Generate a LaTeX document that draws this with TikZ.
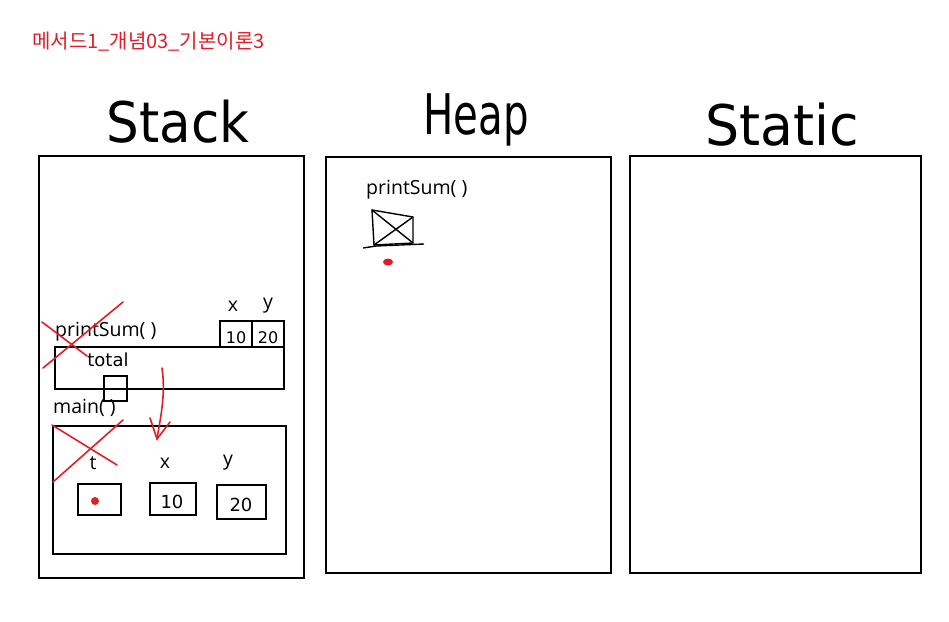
\documentclass[tikz,border=0pt]{standalone}
\usepackage{fontspec}
\setmainfont{Open Sans}
\newfontfamily\krfont{Noto Sans CJK KR}
\newfontfamily\handfont{DejaVu Sans}
\definecolor{penred}{RGB}{225,30,40}
\usetikzlibrary{arrows.meta}
\tikzset{
  region/.style={draw, line width=2.6pt},
  frame/.style={draw, line width=1.6pt},
  cell/.style={draw, line width=1.4pt},
  lbl/.style={font=\fontsize{19.5}{19.5}\selectfont, inner sep=0pt},
  big/.style={font=\handfont\fontsize{56}{56}\selectfont, inner sep=0pt},
  hand/.style={font=\handfont\fontsize{16}{16}\selectfont, inner sep=0pt},
  redpen/.style={draw=penred, line width=1.6pt, line cap=round},
}
\begin{document}
\begin{tikzpicture}[x=1pt,y=-1pt]
\useasboundingbox[fill=white] (0,0) rectangle (949,621);
% title
\node[anchor=west, text=penred, font=\krfont\fontsize{20}{20}\selectfont, inner sep=0pt] (title) at (32,42) {메서드1\_개념03\_기본이론3};
% headings
\node[big, xscale=0.92] (hstack) at (178,122) {Stack};
\node[big, xscale=0.72] (hheap) at (476,120) {Heap};
\node[big, xscale=0.96] (hstatic) at (782,125) {Static};
% regions
\draw[region] (39,156) rectangle (304,578);
\draw[region] (326,157) rectangle (611,573);
\draw[region] (630,156) rectangle (921,573);
% stack: printSum frame
\node[lbl, anchor=west] (ps) at (55,332) {printSum( )};
\draw[frame] (55,347) rectangle (284,389);
\node[lbl] (px) at (233,306) {x};
\node[lbl] (py) at (268,306) {y};
\draw[cell] (220,321) rectangle (252,347);
\draw[cell] (252,321) rectangle (284,347);
\node[hand] (p10) at (236,338) {10};
\node[hand] (p20) at (268,338) {20};
\node[hand, font=\handfont\fontsize{18}{18}\selectfont] (total) at (108,360) {total};
\draw[cell] (104,376) rectangle (127,401);
% stack: main frame
\node[lbl, anchor=west] (mn) at (53,408) {main( )};
\draw[frame] (53,426) rectangle (286,554);
\node[lbl] (mt) at (93,463) {t};
\node[lbl] (mx) at (165,463) {x};
\node[lbl] (my) at (228,463) {y};
\draw[cell] (78,484) rectangle (121,515);
\draw[cell] (150,483) rectangle (196,515);
\draw[cell] (217,485) rectangle (266,519);
\fill[penred] (95,501) circle (4);
\node[hand, font=\handfont\fontsize{18}{18}\selectfont] (m10) at (172,502) {10};
\node[hand, font=\handfont\fontsize{18}{18}\selectfont] (m20) at (241,505) {20};
% red crosses
\draw[redpen] (42,322) -- (87,356);
\draw[redpen] (123,302) -- (43,368);
\draw[redpen] (52,425) -- (117,465);
\draw[redpen] (123,420) -- (53,482);
% red arrow
\coordinate (as) at (162,368);
\coordinate (ae) at (157,439);
\draw[redpen] (as) .. controls (166,395) and (160,420) .. (ae);
\draw[redpen] (150,418) -- (ae) -- (170,422);
% heap
\node[lbl, anchor=west] (hps) at (366,190) {printSum( )};
\draw[cell] (372,210) -- (413,217) -- (413,243) -- (374,245) -- cycle;
\draw[cell] (372,210) -- (413,243);
\draw[cell] (413,217) -- (374,245);
\draw[cell] (363,248) -- (376,246) -- (424,244);
\fill[penred] (388,262) ellipse (5 and 3.5);
\end{tikzpicture}
\end{document}
